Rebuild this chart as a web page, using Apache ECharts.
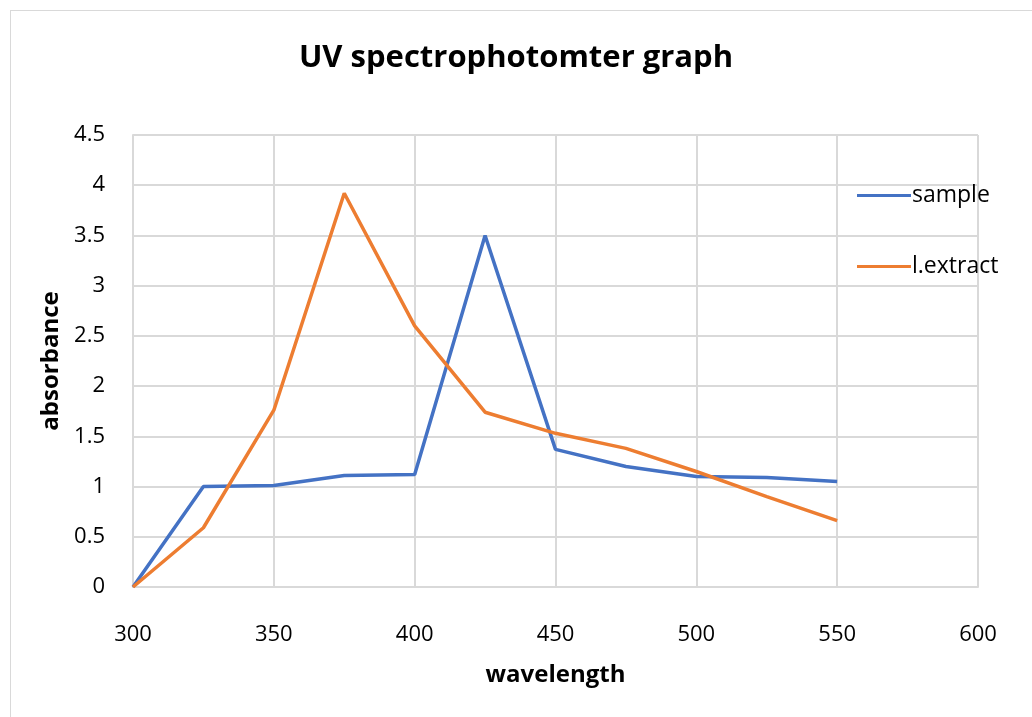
<!DOCTYPE html>
<html>
<head>
<meta charset="utf-8">
<script src="https://cdn.jsdelivr.net/npm/echarts@6/dist/echarts.min.js"></script>
<style>
    html, body { margin: 0; padding: 0; background: #fff; }
    .frame {
        position: absolute; left: 10px; top: 10px;
        width: 1040px; height: 720px;
        border: 1px solid #d9d9d9;
    }
    #uv_chart { position: absolute; left: 0; top: 0; width: 1032px; height: 717px; }
</style>
</head>
<body>
<div class="frame"></div>
<div id="uv_chart"></div>
<script>
    // wavelength points
    var wavelength = [300, 325, 350, 375, 400, 425, 450, 475, 500, 525, 550];
    // absorbance values
    var sampleValues = [0, 1.0, 1.01, 1.11, 1.12, 3.5, 1.37, 1.2, 1.1, 1.09, 1.05];
    var extractValues = [0, 0.59, 1.76, 3.92, 2.6, 1.74, 1.53, 1.38, 1.15, 0.9, 0.66];

    function pairs(vals) {
        return wavelength.map(function (w, i) { return [w, vals[i]]; });
    }

    var font = '"Open Sans", "Noto Sans", sans-serif';
    var chart = echarts.init(document.getElementById('uv_chart'));
    var option = {
        animation: false,
        textStyle: { fontFamily: font },
        title: {
            text: 'UV spectrophotomter graph',
            left: 'center',
            top: 38,
            textStyle: { fontSize: 31, fontWeight: 'bold', color: '#000', fontFamily: font }
        },
        legend: {
            orient: 'vertical',
            left: 852,
            top: 179,
            itemGap: 48,
            itemWidth: 54,
            itemHeight: 3,
            icon: 'rect',
            textStyle: { fontSize: 23, color: '#000', padding: [0, 0, 0, -4] },
            data: ['sample', 'l.extract']
        },
        grid: { left: 133, right: 54, top: 135, bottom: 130 },
        xAxis: {
            type: 'value',
            min: 300, max: 600, interval: 50,
            name: 'wavelength',
            nameLocation: 'middle',
            nameGap: 76,
            nameTextStyle: { fontSize: 24, fontWeight: 'bold', color: '#000' },
            axisLine: { lineStyle: { color: '#d9d9d9', width: 2 } },
            axisTick: { show: false },
            axisLabel: { fontSize: 22, color: '#000', margin: 37 },
            splitLine: { show: true, lineStyle: { color: '#d9d9d9', width: 2 } }
        },
        yAxis: {
            type: 'value',
            min: 0, max: 4.5, interval: 0.5,
            name: 'absorbance',
            nameLocation: 'middle',
            nameGap: 68,
            nameTextStyle: { fontSize: 24, fontWeight: 'bold', color: '#000' },
            axisLine: { show: true, lineStyle: { color: '#d9d9d9', width: 2 } },
            axisTick: { show: false },
            axisLabel: { fontSize: 22, color: '#000', margin: 28 },
            splitLine: { show: true, lineStyle: { color: '#d9d9d9', width: 2 } }
        },
        series: [
            {
                name: 'sample',
                type: 'line',
                data: pairs(sampleValues),
                showSymbol: false,
                lineStyle: { color: '#4472C4', width: 3.5 },
                itemStyle: { color: '#4472C4' }
            },
            {
                name: 'l.extract',
                type: 'line',
                data: pairs(extractValues),
                showSymbol: false,
                lineStyle: { color: '#ED7D31', width: 3.5 },
                itemStyle: { color: '#ED7D31' }
            }
        ]
    };
    chart.setOption(option);
</script>
</body>
</html>
